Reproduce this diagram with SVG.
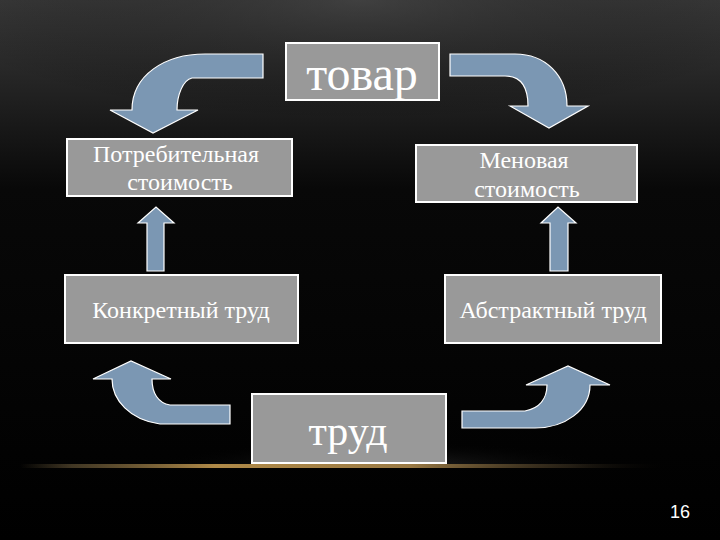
<svg xmlns="http://www.w3.org/2000/svg" width="720" height="540" viewBox="0 0 720 540">
<defs>
<linearGradient id="bg" x1="0" y1="0" x2="0" y2="1">
<stop offset="0" stop-color="#3a3a3a"/>
<stop offset="0.35" stop-color="#080808"/>
<stop offset="1" stop-color="#000"/>
</linearGradient>
<radialGradient id="topglow" cx="0.5" cy="0" r="0.6">
<stop offset="0" stop-color="#444" stop-opacity="0.6"/>
<stop offset="1" stop-color="#000" stop-opacity="0"/>
</radialGradient>
<linearGradient id="line" x1="0" y1="0" x2="1" y2="0">
<stop offset="0" stop-color="#6b5a3a" stop-opacity="0"/>
<stop offset="0.08" stop-color="#6b5a3a" stop-opacity="0.6"/>
<stop offset="0.3" stop-color="#b08a48"/>
<stop offset="0.6" stop-color="#9a7a45"/>
<stop offset="0.85" stop-color="#3a3020" stop-opacity="0.6"/>
<stop offset="1" stop-color="#000" stop-opacity="0"/>
</linearGradient>
<radialGradient id="spill" cx="0.5" cy="1" r="0.5">
<stop offset="0" stop-color="#4a4a4a" stop-opacity="0.5"/>
<stop offset="1" stop-color="#000" stop-opacity="0"/>
</radialGradient>
</defs>
<style>
.box{fill:#999999;stroke:#ffffff;stroke-width:2}
.arrow{fill:#7b97b3;stroke:#ffffff;stroke-width:1.2;stroke-linejoin:miter}
.t{font-family:"Liberation Serif","Times New Roman",serif;fill:#ffffff;text-anchor:middle}
.s{font-size:24px}
.num{font-family:"Liberation Sans",Arial,sans-serif;fill:#ffffff;font-size:18px;text-anchor:middle}
</style>
<rect width="720" height="540" fill="url(#bg)"/>
<rect width="720" height="200" fill="url(#topglow)"/>
<rect x="150" y="416" width="460" height="50" fill="url(#spill)"/>
<rect x="20" y="464" width="650" height="4" fill="url(#line)"/>

<g id="connectors">
<path class="arrow" d="M263,54 L263,78 L192,78 C183,80 177,95 177,110 L198,110 L153,133 L110,110 L132,110 C132,75 165,54 205,54 Z"/>
<path class="arrow" d="M450,54 L515,54 C545,54 567,75 567,106 L588,106 L549,128 L510,106 L528,106 C528,88 522,76 505,76 L450,76 Z"/>
<path class="arrow" d="M147,271 L164,271 L164,223 L174,223 L156,207 L138,223 L147,223 Z"/>
<path class="arrow" d="M550,271 L568,271 L568,223 L576,223 L558,207 L541,223 L550,223 Z"/>
<path class="arrow" d="M230,405 L230,424 L160,424 C130,420 112,400 112,379 L93,379 L131,361 L171,379 L152,379 C152,393 158,403 170,405 Z"/>
<path class="arrow" d="M462,411 L525,411 C540,408 547,398 547,385 L526,385 L568,366 L610,385 L590,385 C590,410 565,428 535,428 L462,428 Z"/>
</g>

<g id="tovar">
<rect class="box" x="286" y="43" width="153" height="57"/>
<text class="t" x="362" y="90" font-size="48">товар</text>
</g>
<g id="potreb">
<rect class="box" x="67" y="139" width="225" height="57"/>
<text class="t s" x="176" y="162">Потребительная</text>
<text class="t s" x="180" y="190">стоимость</text>
</g>
<g id="menov">
<rect class="box" x="416" y="145" width="221" height="57"/>
<text class="t s" x="524" y="168">Меновая</text>
<text class="t s" x="527" y="197">стоимость</text>
</g>
<g id="konkr">
<rect class="box" x="65" y="275" width="233" height="68"/>
<text class="t s" x="181" y="318">Конкретный труд</text>
</g>
<g id="abstr">
<rect class="box" x="445" y="275" width="216" height="68"/>
<text class="t s" x="553" y="318">Абстрактный труд</text>
</g>
<g id="trud">
<rect class="box" x="252" y="394" width="194" height="69"/>
<text class="t" x="348" y="445" font-size="42">труд</text>
</g>
<text class="num" x="680" y="518">16</text>
</svg>
